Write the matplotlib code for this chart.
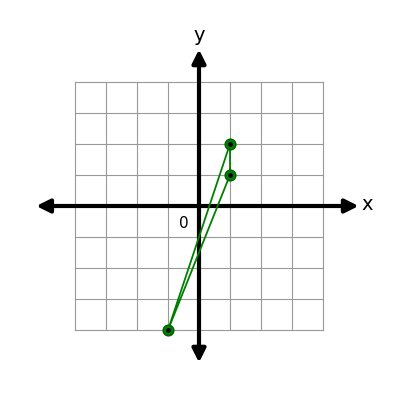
import matplotlib
matplotlib.use("Agg")
import matplotlib.pyplot as plt

xs = [1, 1, -1]
ys = [2, 1, -4]

fig = plt.figure(figsize=(4, 4), dpi=100)
ax = fig.add_axes([0, 0, 1, 1])
ax.set_xlim(-199/31, 201/31)
ax.set_ylim(-194/31, 206/31)
ax.axis('off')

for i in range(-4, 5):
    ax.plot([i, i], [-4, 4], color='#999999', lw=0.8, zorder=1)
    ax.plot([-4, 4], [i, i], color='#999999', lw=0.8, zorder=1)

ax.annotate('', xy=(5.15, 0), xytext=(-5.25, 0),
            arrowprops=dict(arrowstyle='<|-|>', color='black', lw=3, mutation_scale=20, shrinkA=0, shrinkB=0), zorder=3)
ax.annotate('', xy=(0, 5.05), xytext=(0, -5.05),
            arrowprops=dict(arrowstyle='<|-|>', color='black', lw=3, mutation_scale=20, shrinkA=0, shrinkB=0), zorder=3)
ax.text(5.25, 0.05, 'x', fontsize=14, ha='left', va='center')
ax.text(0, 5.5, 'y', fontsize=14, ha='center', va='center')
ax.text(-0.5, -0.55, '0', fontsize=11, ha='center', va='center')

ax.plot(xs + [xs[0]], ys + [ys[0]], color='green', lw=1.3, zorder=4)
ax.scatter(xs, ys, s=60, facecolor='green', edgecolor='darkgreen', zorder=5)
ax.scatter(xs, ys, s=6, color='black', zorder=6)

fig.savefig('out.png', dpi=100)
